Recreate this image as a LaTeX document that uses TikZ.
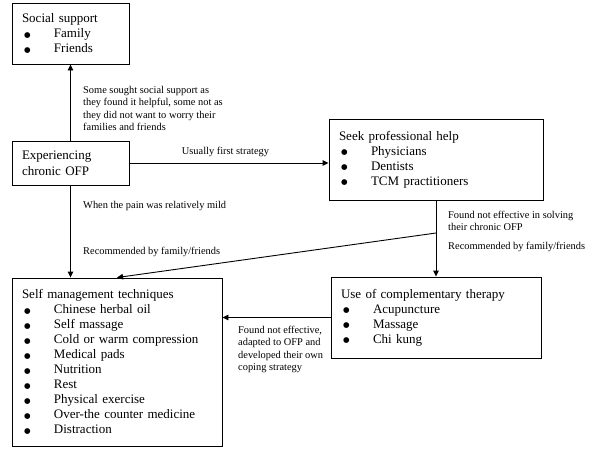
\documentclass[tikz,border=0pt]{standalone}
\usepackage{fontspec}
\setmainfont{Liberation Serif}
\newfontfamily\symfont{DejaVu Sans}
\usetikzlibrary{arrows.meta}
\newcommand\mybul{\makebox[32pt][l]{\hspace{2pt}\raisebox{0.5pt}{\symfont\fontsize{7.5}{7.5}\selectfont ●}}}
\tikzset{
  box/.style={draw, line width=0.9pt, rectangle, inner xsep=10pt, inner ysep=0pt, align=left, font=\fontsize{13}{15}\selectfont},
  lab/.style={inner sep=0pt, align=left, font=\fontsize{10.4}{12.3}\selectfont},
  ln/.style={line width=0.9pt},
  arr/.style={line width=0.9pt, -{Triangle[length=6pt,width=5.5pt]}}
}
\begin{document}
\begin{tikzpicture}[x=1pt,y=-1pt]
\useasboundingbox[fill=white] (0,0) rectangle (600,453);
\node[box, minimum width=117pt, minimum height=61pt, text width=97pt] (soc) at (70.5,33.5)
  {Social support\\\mybul Family\\\mybul Friends};
\node[box, minimum width=117pt, minimum height=44pt, text width=97pt, font=\fontsize{13}{16}\selectfont] (exp) at (70.5,163)
  {Experiencing\\chronic OFP};
\node[box, minimum width=214pt, minimum height=81pt, text width=194pt] (seek) at (436,159.5)
  {Seek professional help\\\mybul Physicians\\\mybul Dentists\\\mybul TCM practitioners};
\node[box, minimum width=210pt, minimum height=168pt, text width=190pt] (self) at (117,362)
  {Self management techniques\\\mybul Chinese herbal oil\\\mybul Self massage\\\mybul Cold or warm compression\\\mybul Medical pads\\\mybul Nutrition\\\mybul Rest\\\mybul Physical exercise\\\mybul Over-the counter medicine\\\mybul Distraction};
\node[box, minimum width=210pt, minimum height=81pt, text width=190pt] (use) at (436,317.5)
  {Use of complementary therapy\\\mybul Acupuncture\\\mybul Massage\\\mybul Chi kung};

\draw[arr] (exp.north) -- (soc.south);
\draw[arr] (exp.east) -- (seek.west |- exp.east);
\draw[arr] (exp.south) -- (exp.south |- self.north);
\draw[arr] (seek.south) -- (use.north);
\coordinate (br) at (436,233);
\draw[arr] (br) -- (self.north);
\draw[arr] (use.west) -- (use.west -| self.east);

\node[lab, anchor=north west] (l1) at (83,86)
  {Some sought social support as\\they found it helpful, some not as\\they did not want to worry their\\families and friends};
\node[lab, anchor=base] (l2) at (225.5,154) {Usually first strategy};
\node[lab, anchor=base west] (l3) at (83,208) {When the pain was relatively mild};
\node[lab, anchor=base west] (l4) at (83,254) {Recommended by family/friends};
\node[lab, anchor=north west] (l5) at (448,211) {Found not effective in solving\\their chronic OFP};
\node[lab, anchor=base west] (l6) at (448,249) {Recommended by family/friends};
\node[lab, anchor=north west] (l7) at (238,326)
  {Found not effective,\\adapted to OFP and\\developed their own\\coping strategy};
\end{tikzpicture}
\end{document}
